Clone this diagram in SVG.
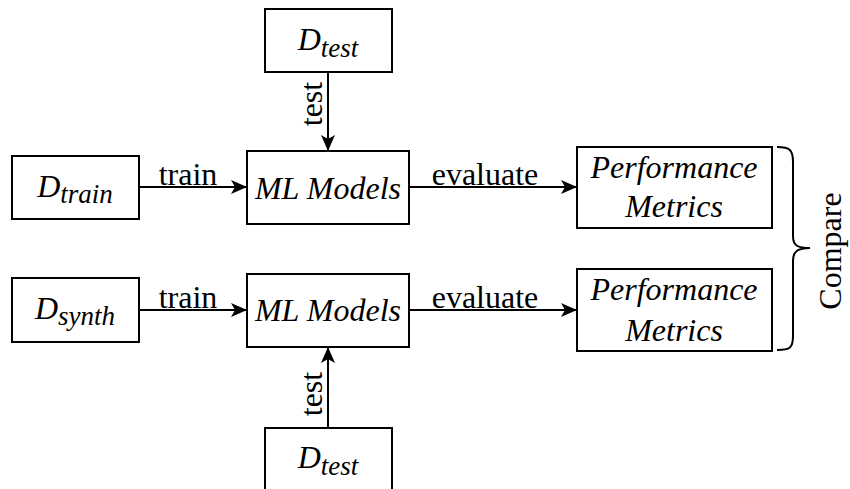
<svg xmlns="http://www.w3.org/2000/svg" width="850" height="489" viewBox="0 0 850 489">
  <style>
    .box { fill: #ffffff; stroke: #000000; stroke-width: 2; }
    .edge { fill: none; stroke: #000000; stroke-width: 2; }
    text { fill: #000000; font-family: "Liberation Serif", "Times New Roman", Times, serif; }
    .it { font-style: italic; }
    .lbl { font-size: 32px; }
    .nd { font-size: 32px; }
    .sub { font-size: 27px; }
    .cmp { font-size: 32px; }
  </style>
  <defs>
    <marker id="arrow" viewBox="0 0 16 14" refX="15" refY="7" markerWidth="16" markerHeight="14" markerUnits="userSpaceOnUse" orient="auto">
      <path d="M0,0 L16,7 L0,14 L4,7 Z" fill="#000000"/>
    </marker>
  </defs>
  <rect width="850" height="489" fill="#ffffff"/>

  <!-- connectors -->
  <g id="connectors">
    <line class="edge" x1="139" y1="187" x2="246" y2="187" marker-end="url(#arrow)"/>
    <line class="edge" x1="328" y1="72" x2="328" y2="150" marker-end="url(#arrow)"/>
    <line class="edge" x1="409" y1="187" x2="576" y2="187" marker-end="url(#arrow)"/>
    <line class="edge" x1="139" y1="310" x2="246" y2="310" marker-end="url(#arrow)"/>
    <line class="edge" x1="328" y1="428" x2="328" y2="348" marker-end="url(#arrow)"/>
    <line class="edge" x1="409" y1="310" x2="576" y2="310" marker-end="url(#arrow)"/>
    <text class="lbl" x="188" y="185" text-anchor="middle">train</text>
    <text class="lbl" x="188" y="308" text-anchor="middle">train</text>
    <text class="lbl" x="485" y="185" text-anchor="middle">evaluate</text>
    <text class="lbl" x="485" y="308" text-anchor="middle">evaluate</text>
    <text class="lbl" transform="translate(322,104) rotate(-90)" text-anchor="middle">test</text>
    <text class="lbl" transform="translate(322,394) rotate(-90)" text-anchor="middle">test</text>
  </g>

  <!-- top pipeline -->
  <g id="dtest-top">
    <rect class="box" x="265" y="9" width="127" height="63"/>
    <text class="it" x="328" y="50" text-anchor="middle"><tspan class="nd">D</tspan><tspan class="sub" dy="7">test</tspan></text>
  </g>
  <g id="dtrain">
    <rect class="box" x="12" y="156" width="127" height="63"/>
    <text class="it" x="75" y="197" text-anchor="middle"><tspan class="nd">D</tspan><tspan class="sub" dy="6">train</tspan></text>
  </g>
  <g id="models-top">
    <rect class="box" x="247" y="151" width="162" height="73"/>
    <text class="it nd" x="328" y="199" text-anchor="middle">ML Models</text>
  </g>
  <g id="metrics-top">
    <rect class="box" x="577" y="147" width="195" height="81"/>
    <text class="it nd" x="674" y="178" text-anchor="middle">Performance</text>
    <text class="it nd" x="674" y="217" text-anchor="middle">Metrics</text>
  </g>

  <!-- bottom pipeline -->
  <g id="dsynth">
    <rect class="box" x="12" y="278" width="127" height="64"/>
    <text class="it" x="75" y="319" text-anchor="middle"><tspan class="nd">D</tspan><tspan class="sub" dy="6">synth</tspan></text>
  </g>
  <g id="models-bottom">
    <rect class="box" x="247" y="274" width="162" height="73"/>
    <text class="it nd" x="328" y="321" text-anchor="middle">ML Models</text>
  </g>
  <g id="metrics-bottom">
    <rect class="box" x="577" y="269" width="195" height="82"/>
    <text class="it nd" x="674" y="300" text-anchor="middle">Performance</text>
    <text class="it nd" x="674" y="341" text-anchor="middle">Metrics</text>
  </g>
  <g id="dtest-bottom">
    <rect class="box" x="265" y="428" width="127" height="80"/>
    <text class="it" x="328" y="468" text-anchor="middle"><tspan class="nd">D</tspan><tspan class="sub" dy="7">test</tspan></text>
  </g>

  <!-- comparison brace -->
  <g id="compare">
    <path class="edge" d="M777,147 C790,147 793,150 793,162 L793,236 C793,246 798,248 810,248 C798,248 793,251 793,261 L793,336 C793,348 790,350 777,350"/>
    <text class="cmp" transform="translate(841,251) rotate(-90)" text-anchor="middle">Compare</text>
  </g>
</svg>
